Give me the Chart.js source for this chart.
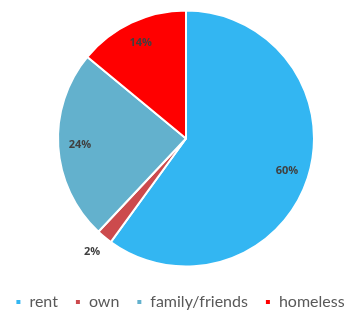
<!DOCTYPE html>
<html lang="en">
<head>
    <meta charset="UTF-8">
    <title>Housing</title>
    <script src="https://cdn.jsdelivr.net/npm/chart.js"></script>
    <style>
        * { box-sizing: border-box; margin: 0; padding: 0; }
        body { background: #fff; overflow: hidden; }
        .wrap { width: 354px; height: 312px; overflow: hidden; }
    </style>
</head>
<body>
    <div class="wrap"><canvas id="pie" width="372" height="312"></canvas></div>
    <script>
        let categories = ["rent", "own", "family/friends", "homeless"];
        let shares = [60, 2, 24, 14];
        let colors = ["#33b6f2", "#cc4a4d", "#63b1cd", "#ff0000"];

        // draw percent labels, small slices go outside
        let pctLabels = {
            id: 'pctLabels',
            afterLayout(chart) {
                // legend sits a bit left of the pie centre
                chart.legend.left -= 6;
                chart.legend.right -= 6;
            },
            afterDatasetsDraw(chart) {
                let ctx = chart.ctx;
                let meta = chart.getDatasetMeta(0);
                ctx.save();
                ctx.font = "bold 11px 'Open Sans', sans-serif";
                ctx.fillStyle = "#404040";
                ctx.textAlign = "center";
                ctx.textBaseline = "middle";
                meta.data.forEach((arc, i) => {
                    let mid = (arc.startAngle + arc.endAngle) / 2;
                    let f = shares[i] < 5 ? 1.15 : 0.83;
                    let d = arc.outerRadius * f;
                    ctx.fillText(shares[i] + "%", arc.x + Math.cos(mid) * d, arc.y + Math.sin(mid) * d);
                });
                ctx.restore();
            }
        };

        new Chart(document.getElementById("pie"), {
            type: 'pie',
            data: {
                labels: categories,
                datasets: [{
                    data: shares,
                    backgroundColor: colors,
                    borderColor: "#fff",
                    borderWidth: 2,
                    radius: 128
                }]
            },
            options: {
                responsive: false,
                animation: false,
                layout: { padding: { top: -30, bottom: -8 } },
                plugins: {
                    tooltip: { enabled: false },
                    legend: {
                        position: 'bottom',
                        labels: {
                            boxWidth: 6,
                            boxHeight: 6,
                            padding: 17,
                            color: "#595959",
                            font: { size: 16, family: "Lato, sans-serif" }
                        }
                    }
                }
            },
            plugins: [pctLabels]
        });
    </script>
</body>
</html>
